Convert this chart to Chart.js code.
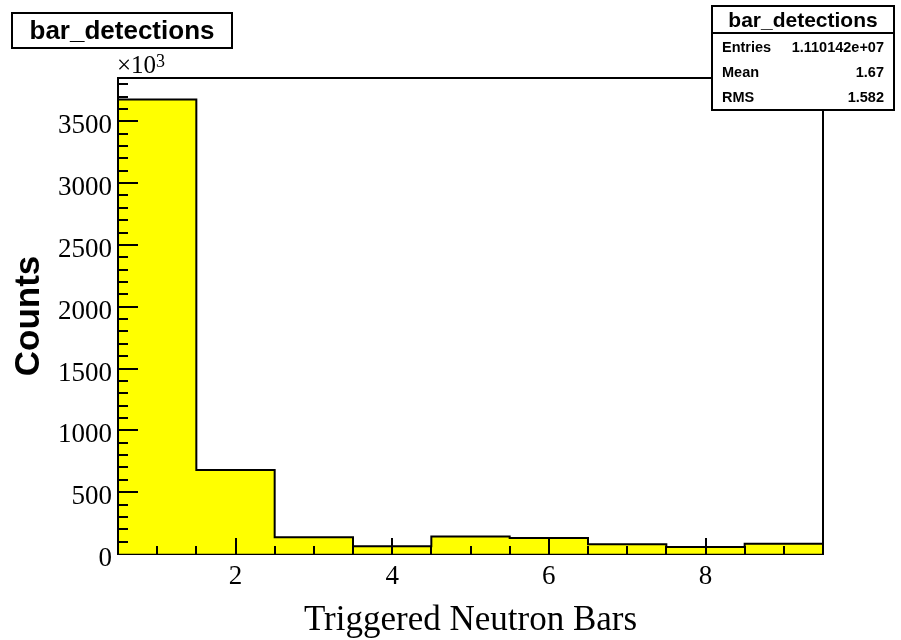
<!DOCTYPE html>
<html>
<head>
<meta charset="utf-8">
<script src="https://cdn.jsdelivr.net/npm/chart.js@4/dist/chart.umd.min.js"></script>
<style>
  html, body { margin: 0; padding: 0; background: #ffffff; }
  canvas { display: block; }
</style>
</head>
<body>
<canvas id="c" width="901" height="640"></canvas>
<script>
// Histogram contents (counts in units of 10^3)
const histName = 'bar_detections';
const binCenters = [1, 2, 3, 4, 5, 6, 7, 8, 9];
const countsK = [3676, 679, 135, 62, 142, 129, 78, 57, 83];
const binWidth = 1;

// Axis ticks
const xTickValues = [2, 4, 6, 8];
const xTickLabels = ['2', '4', '6', '8'];
const yTickValues = [0, 500, 1000, 1500, 2000, 2500, 3000, 3500];
const yTickLabels = ['0', '500', '1000', '1500', '2000', '2500', '3000', '3500'];

// Titles and statistics box
const xTitle = 'Triggered Neutron Bars';
const yTitle = 'Counts';
const yMultiplier = '\u00d710';
const yExponent = '3';
const statLabels = ['Entries', 'Mean', 'RMS'];
const statValues = ['1.110142e+07', '1.67', '1.582'];

const X_MIN = 0.5, X_MAX = 9.5, Y_MAX = 3850;
const SERIF = '"Liberation Serif", "Times New Roman", serif';
const SANS = '"Liberation Sans", Arial, Helvetica, sans-serif';

// Step outline of the histogram, built from the bin contents
const outline = [{ x: binCenters[0] - binWidth / 2, y: 0 }];
binCenters.forEach((c, i) => {
  outline.push({ x: c - binWidth / 2, y: countsK[i] });
  outline.push({ x: c + binWidth / 2, y: countsK[i] });
});
outline.push({ x: binCenters[binCenters.length - 1] + binWidth / 2, y: 0 });

function seg(ctx, x1, y1, x2, y2) {
  ctx.beginPath(); ctx.moveTo(x1, y1); ctx.lineTo(x2, y2); ctx.stroke();
}

// Inner tick marks, frame, title box, stats box and exponent label
const decorations = {
  id: 'decorations',
  afterDatasetsDraw(chart) {
    const { ctx, chartArea: a, scales: { x, y } } = chart;
    ctx.save();
    ctx.strokeStyle = '#000';
    ctx.lineWidth = 2;

    // y ticks: minor every 100, major every 500, pointing inward
    for (let v = 100; v < Y_MAX; v += 100) {
      const p = Math.round(y.getPixelForValue(v));
      const len = v % 500 === 0 ? 20 : 10;
      seg(ctx, a.left, p, a.left + len, p);
    }
    // x ticks: minor every 0.5, major every 2
    for (let k = 1; k < (X_MAX - X_MIN) * 2; k++) {
      const v = X_MIN + k * 0.5;
      const p = Math.round(x.getPixelForValue(v));
      const len = v % 2 === 0 ? 16 : 8;
      seg(ctx, p, a.bottom, p, a.bottom - len);
    }

    // frame top and right
    seg(ctx, a.left, a.top, a.right + 1, a.top);
    seg(ctx, a.right, a.top, a.right, a.bottom);
    ctx.restore();
  },
  afterDraw(chart) {
    const { ctx, chartArea: a } = chart;
    ctx.save();
    ctx.strokeStyle = '#000';
    ctx.fillStyle = '#000';
    ctx.lineWidth = 2;

    // histogram title box
    ctx.fillStyle = '#fff';
    ctx.fillRect(12, 13, 220, 35);
    ctx.strokeRect(12, 13, 220, 35);
    ctx.fillStyle = '#000';
    ctx.font = 'bold 26px ' + SANS;
    ctx.textAlign = 'center';
    ctx.textBaseline = 'alphabetic';
    ctx.fillText(histName, 122, 39);

    // statistics box
    const bx = 712, by = 6, bw = 182, bh = 104;
    ctx.fillStyle = '#fff';
    ctx.fillRect(bx, by, bw, bh);
    ctx.strokeRect(bx, by, bw, bh);
    seg(ctx, bx, 33, bx + bw, 33);
    ctx.fillStyle = '#000';
    ctx.font = 'bold 21px ' + SANS;
    ctx.textAlign = 'center';
    ctx.fillText(histName, bx + bw / 2, 27);
    ctx.font = 'bold 14.5px ' + SANS;
    statLabels.forEach((lab, i) => {
      const base = 52 + i * 25;
      ctx.textAlign = 'left';
      ctx.fillText(lab, bx + 10, base);
      ctx.textAlign = 'right';
      ctx.fillText(statValues[i], bx + bw - 10, base);
    });

    // y-axis multiplier
    ctx.textAlign = 'left';
    ctx.font = '25px ' + SERIF;
    ctx.fillText(yMultiplier, a.left - 1, 73);
    const w = ctx.measureText(yMultiplier).width;
    ctx.font = '18px ' + SERIF;
    ctx.fillText(yExponent, a.left - 1 + w, 67);
    ctx.restore();
  }
};

new Chart(document.getElementById('c'), {
  data: {
    datasets: [
      {
        type: 'line',
        data: outline,
        borderColor: '#000',
        borderWidth: 2,
        pointRadius: 0,
        tension: 0,
        fill: false,
        order: 0
      },
      {
        type: 'bar',
        data: binCenters.map((c, i) => ({ x: c, y: countsK[i] })),
        backgroundColor: '#ffff00',
        borderWidth: 0,
        barPercentage: 1,
        categoryPercentage: 1,
        order: 1
      }
    ]
  },
  options: {
    responsive: false,
    animation: false,
    events: [],
    layout: { padding: { left: 0, right: 78, top: 78, bottom: 0 } },
    plugins: { legend: { display: false }, tooltip: { enabled: false }, title: { display: false } },
    scales: {
      x: {
        type: 'linear',
        min: X_MIN,
        max: X_MAX,
        offset: false,
        afterBuildTicks(scale) { scale.ticks = xTickValues.map(v => ({ value: v })); },
        afterFit(scale) { scale.height = 86; },
        ticks: {
          autoSkip: false,
          maxRotation: 0,
          padding: 7,
          color: '#000',
          font: { family: SERIF, size: 27 },
          callback: (v) => xTickLabels[xTickValues.indexOf(v)]
        },
        grid: { drawOnChartArea: false, drawTicks: false, display: true },
        border: { display: true, color: '#000', width: 2 },
        title: {
          display: true,
          text: xTitle,
          color: '#000',
          font: { family: SERIF, size: 35, lineHeight: 1 },
          padding: { top: 0, bottom: 2 }
        }
      },
      y: {
        type: 'linear',
        min: 0,
        max: Y_MAX,
        afterBuildTicks(scale) { scale.ticks = yTickValues.map(v => ({ value: v })); },
        afterFit(scale) { scale.width = 118; },
        ticks: {
          autoSkip: false,
          padding: 6,
          labelOffset: 5,
          color: '#000',
          font: { family: SERIF, size: 27 },
          callback: (v) => yTickLabels[yTickValues.indexOf(v)]
        },
        grid: { drawOnChartArea: false, drawTicks: false, display: true },
        border: { display: true, color: '#000', width: 2 },
        title: {
          display: true,
          text: yTitle,
          color: '#000',
          font: { family: SANS, size: 35, weight: 'bold', lineHeight: 1 },
          padding: { top: 12, bottom: 0 }
        }
      }
    }
  },
  plugins: [decorations]
});
</script>
</body>
</html>
